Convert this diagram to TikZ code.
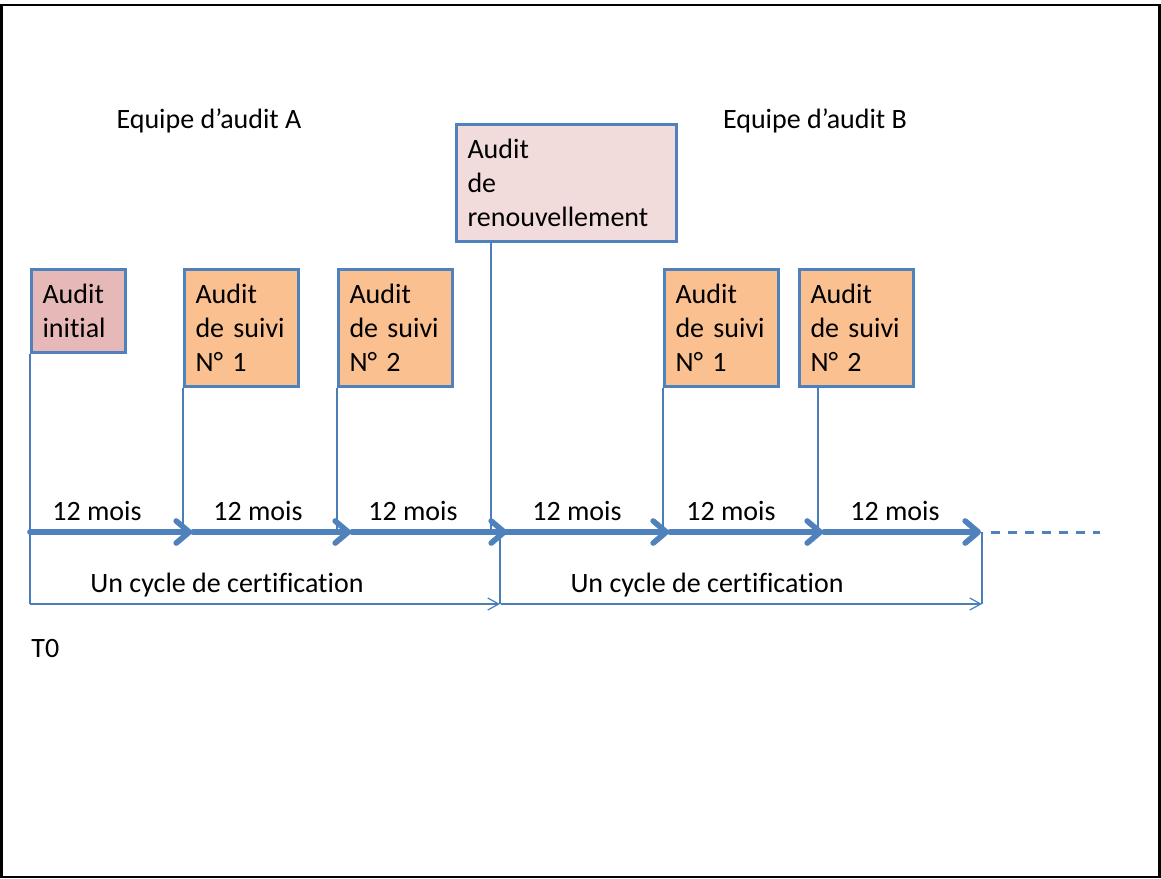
\documentclass[tikz,border=0pt]{standalone}
\usepackage{fontspec}
\setmainfont{Carlito}[Ligatures=NoCommon]
\usetikzlibrary{arrows.meta}
\definecolor{boxblue}{HTML}{4F81BD}
\definecolor{lineblue}{HTML}{4A7EBB}
\definecolor{initfill}{HTML}{E6B9B8}
\definecolor{suivifill}{HTML}{FAC090}
\definecolor{renfill}{HTML}{F2DCDB}
\tikzset{
  lbl/.style={font=\fontsize{14}{17}\selectfont, inner sep=0pt},
  auditbox/.style={draw=boxblue, line width=1.5pt, anchor=north west,
    font=\fontsize{14}{17}\selectfont, align=left, inner xsep=5.5pt, inner ysep=0pt},
  initbox/.style={auditbox, fill=initfill, text width=36pt, minimum width=47pt, minimum height=41.5pt},
  suivibox/.style={auditbox, fill=suivifill, text width=46pt, minimum width=57pt, minimum height=58.5pt},
  renbox/.style={auditbox, fill=renfill, text width=99pt, minimum width=110pt, minimum height=58.5pt},
  tick/.style={draw=lineblue, line width=0.6pt},
  period/.style={draw=boxblue, line width=2.8pt, line cap=round,
    -{Straight Barb[length=6.5pt,width=11pt,round]},
    preaction={draw=black!35, opacity=0.35, transform canvas={xshift=0.4pt,yshift=-1.4pt}}},
  cyclearrow/.style={draw=lineblue, line width=0.6pt, -{Straight Barb[length=5.5pt,width=6pt]}},
  future/.style={draw=boxblue, line width=1.5pt, dash pattern=on 4.5pt off 4pt}
}
\begin{document}
\begin{tikzpicture}[x=0.5pt, y=-0.5pt]
  \useasboundingbox (0,0) rectangle (1161,878);
  % outer frame
  \draw[line width=1.3pt] (1.7,5) rectangle (1159.5,877);

  % team labels
  \node[lbl, anchor=base] (teamA) at (209,128) {Equipe d’audit A};
  \node[lbl, anchor=base] (teamB) at (815,128) {Equipe d’audit B};

  % timeline points
  \coordinate (p0) at (30,532);
  \coordinate (p1a) at (192,532);  \coordinate (p1b) at (193,532);
  \coordinate (p2a) at (351,532);  \coordinate (p2b) at (352,532);
  \coordinate (p3a) at (507,532);  \coordinate (p3b) at (502,532);
  \coordinate (p4a) at (669,532);  \coordinate (p4b) at (670,532);
  \coordinate (p5a) at (823,532);  \coordinate (p5b) at (824,532);
  \coordinate (p6) at (981,532);
  \coordinate (d0) at (991,532);   \coordinate (d1) at (1100,532);

  % audit boxes
  \node[initbox] (init) at (30,268) {Audit\\initial};
  \node[suivibox] (sa1) at (183,268) {Audit\\de suivi\\N° 1};
  \node[suivibox] (sa2) at (337,268) {Audit\\de suivi\\N° 2};
  \node[renbox] (ren) at (455,123) {Audit\\de\\renouvellement};
  \node[suivibox] (sb1) at (663,268) {Audit\\de suivi\\N° 1};
  \node[suivibox] (sb2) at (798,268) {Audit\\de suivi\\N° 2};

  % cycle brackets
  \coordinate (c0) at (30,604);
  \coordinate (c1) at (500,604);
  \coordinate (c1t) at (500,532);
  \coordinate (c1b) at (501,604);
  \coordinate (c2) at (982,604);
  \coordinate (c2t) at (982,532);

  % drop lines from the audits to the time axis
  \draw[tick] (init.south west) -- (c0);
  \draw[tick] (sa1.south west) -- (sa1.south west |- p0);
  \draw[tick] (sa2.south west) -- (sa2.south west |- p0);
  \draw[tick] (ren.south west -| 491,0) -- (491,532);
  \draw[tick] (sb1.south west) -- (sb1.south west |- p0);
  \draw[tick] (sb2.south west -| 818,0) -- (818,532);
  \draw[tick] (c1t) -- (c1);
  \draw[tick] (c2t) -- (c2);

  % yearly periods
  \draw[period] (p0) -- (p1a);
  \draw[period] (p1b) -- (p2a);
  \draw[period] (p2b) -- (p3a);
  \draw[period] (p3b) -- (p4a);
  \draw[period] (p4b) -- (p5a);
  \draw[period] (p5b) -- (p6);
  \draw[future] (d0) -- (d1);

  \node[lbl, anchor=base] (m1) at (97,520) {12 mois};
  \node[lbl, anchor=base] (m2) at (258,520) {12 mois};
  \node[lbl, anchor=base] (m3) at (413,520) {12 mois};
  \node[lbl, anchor=base] (m4) at (577,520) {12 mois};
  \node[lbl, anchor=base] (m5) at (731,520) {12 mois};
  \node[lbl, anchor=base] (m6) at (895,520) {12 mois};

  % certification cycles
  \draw[cyclearrow] (c0) -- (c1);
  \draw[cyclearrow] (c1b) -- (c2);
  \node[lbl, anchor=base] (cyc1) at (227,592) {Un cycle de certification};
  \node[lbl, anchor=base] (cyc2) at (707,592) {Un cycle de certification};

  \node[lbl, anchor=base west] (t0) at (31,657) {T0};
\end{tikzpicture}
\end{document}
